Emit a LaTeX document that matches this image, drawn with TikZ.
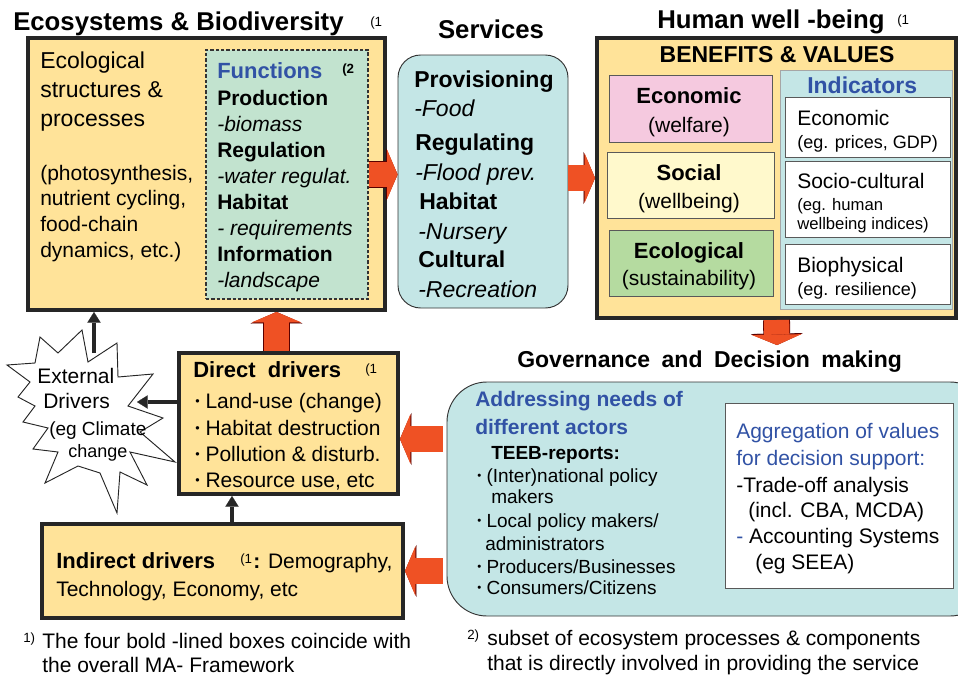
\documentclass[tikz,border=0pt]{standalone}
\usepackage{fontspec}
\setmainfont{Liberation Sans}
\usetikzlibrary{arrows.meta,calc,fit}
\definecolor{ecoyellow}{HTML}{FFE399}
\definecolor{funcgreen}{HTML}{C2E3CF}
\definecolor{servcyan}{HTML}{C4E6E6}
\definecolor{ecopink}{HTML}{F5C9DF}
\definecolor{socyellow}{HTML}{FFF9CC}
\definecolor{ecogreen}{HTML}{B5DBA0}
\definecolor{textblue}{HTML}{3152A5}
\definecolor{arrowred}{HTML}{EF5124}
\newcommand{\smallbullet}{\raisebox{0.12em}{\scalebox{0.6}{\textbullet}}}
\tikzset{
  boldbox/.style={draw=black!85, line width=3pt, fill=ecoyellow, inner sep=0pt},
  thinbox/.style={draw=black!65, line width=0.7pt, inner sep=0pt},
  txt/.style={anchor=base west, inner sep=0pt},
  ctxt/.style={anchor=base, inner sep=0pt},
  fatarrow/.style={draw=arrowred, line width=19pt, -{Triangle[length=7.8pt,width=37pt,line width=0.1pt]},
    preaction={draw=red!35!black, line width=20.2pt, -{Triangle[length=8.6pt,width=39pt,line width=0.1pt]}}},
  thinarrow/.style={draw=black!85, line width=2.8pt, -{Triangle[length=8pt,width=10pt,line width=0.1pt]}},
  f26/.style={font=\fontsize{19.3pt}{21pt}\selectfont},
  f23/.style={font=\fontsize{17.25pt}{20pt}\selectfont},
  f22/.style={font=\fontsize{16.5pt}{19pt}\selectfont},
  f21/.style={font=\fontsize{15.75pt}{18pt}\selectfont},
  f19/.style={font=\fontsize{14.25pt}{16pt}\selectfont},
  f18/.style={font=\fontsize{13.5pt}{15pt}\selectfont},
  f16/.style={font=\fontsize{12.5pt}{14pt}\selectfont},
  f13/.style={font=\fontsize{10pt}{12pt}\selectfont},
}
\begin{document}
\begin{tikzpicture}[x=0.75pt, y=-0.75pt]
\useasboundingbox (0,0) rectangle (958,675);
\clip (0,0) rectangle (958,675);

% boxes
\node[boldbox, fit={(28,38) (385,310)}] (eco) {};
\node[draw=black!80, dash pattern=on 2.5pt off 1.5pt, line width=0.8pt, fill=funcgreen, inner sep=0pt, fit={(206,50) (368,299)}] (func) {};
\node[thinbox, draw=black!80, fill=servcyan, rounded corners=17pt, fit={(398,55) (568,308)}] (serv) {};
\node[boldbox, fit={(597,38) (956,318)}] (hwb) {};
\node[thinbox, fill=ecopink, fit={(609,75) (772,142)}] (econ) {};
\node[thinbox, fill=socyellow, fit={(607,152) (774,218)}] (soc) {};
\node[thinbox, fill=ecogreen, fit={(609,230) (773,296)}] (ecol) {};
\node[thinbox, draw=black!35, fill=servcyan, fit={(780,70) (952,309)}] (ind) {};
\node[thinbox, fill=white, fit={(785,97) (950,157)}] (ind1) {};
\node[thinbox, fill=white, fit={(785,161) (950,237)}] (ind2) {};
\node[thinbox, fill=white, fit={(785,244) (950,304)}] (ind3) {};
\node[thinbox, draw=black!80, fill=servcyan, rounded corners=30pt, fit={(447,382) (990,616)}] (gov) {};
\node[thinbox, fill=white, fit={(725,403) (953,588)}] (aggr) {};
\node[boldbox, fit={(179,353) (398,494)}] (direct) {};
\node[boldbox, fit={(42,524) (403,618)}] (indirect) {};

% external drivers star
\draw[fill=white, draw=black!85, line width=0.7pt] (7,365) -- (30,382) -- (18,397) -- (35,406)
  -- (23,422) -- (48,428) -- (33,449) -- (58,452) -- (45,483) -- (78,466) -- (100,473)
  -- (117,513) -- (120,472) -- (147,485) -- (130,452) -- (175,462) -- (140,432)
  -- (163,418) -- (128,406) -- (153,374) -- (118,377) -- (117,343) -- (88,362)
  -- (82,330) -- (58,353) -- (40,337) -- (35,363) -- cycle;

% titles
\node[txt, f26] (eco-title) at (13,30) {\bfseries Ecosystems \& Biodiversity};
\node[txt, f13] (eco-fn) at (370,26) {(1};
\node[ctxt, f26] (serv-title) at (491,38) {\bfseries Services};
\node[txt, f26] (hwb-title) at (657,28) {\bfseries Human well -being};
\node[txt, f13] (hwb-fn) at (897,24) {(1};
\node[txt, f23] (gov-title) at (517,367) {\bfseries\spaceskip=0.5em Governance and Decision making};

% ecosystems
\foreach \y/\t in {68/Ecological, 97/structures \&, 126/processes}
  \node[txt, f23] (eco-\y) at (40,\y) {\t};
\foreach \y/\t in {180/{(photosynthesis,}, 205/{nutrient cycling,}, 231/food-chain, 257/{dynamics, etc.)}}
  \node[txt, f21] (proc-\y) at (40,\y) {\t};
\node[txt, f22, text=textblue] (func-title) at (217,78) {\bfseries Functions};
\node[txt, f13] (func-fn) at (342,73) {\bfseries (2};
\foreach \y/\t in {105/\bfseries Production, 131/\itshape -biomass, 157/\bfseries Regulation,
    183/\itshape -water regulat., 209/\bfseries Habitat, 235/\itshape - requirements,
    261/\bfseries Information, 287/\itshape -landscape}
  \node[txt, f21] (func-\y) at (217,\y) {\t};

% services
\foreach \x/\y/\t in {414/87/\bfseries Provisioning, 414/116/\itshape -Food, 415/150/\bfseries Regulating,
    415/180/\itshape -Flood prev., 419/209/\bfseries Habitat, 418/239/\itshape -Nursery,
    418/267/\bfseries Cultural, 418/297/\itshape -Recreation}
  \node[txt, f23] (serv-\y) at (\x,\y) {\t};

% human well-being
\node[ctxt, f23] (hwb-head) at (777,62) {\bfseries BENEFITS \& VALUES};
\node[ctxt, f22] (econ-a) at (689,103) {\bfseries Economic};
\node[ctxt, f21] (econ-b) at (689,132) {(welfare)};
\node[ctxt, f22] (soc-a) at (689,180) {\bfseries Social};
\node[ctxt, f21] (soc-b) at (689,208) {(wellbeing)};
\node[ctxt, f22] (ecol-a) at (689,258) {\bfseries Ecological};
\node[ctxt, f21] (ecol-b) at (689,285) {(sustainability)};
\node[txt, f23, text=textblue] (ind-title) at (807,93) {\bfseries Indicators};
\node[txt, f21] (ind1-a) at (797,125) {Economic};
\node[txt, f18] (ind1-b) at (797,148) {(eg. prices, GDP)};
\node[txt, f21] (ind2-a) at (797,188) {Socio-cultural};
\node[txt, f16] (ind2-b) at (797,210) {(eg. human};
\node[txt, f16] (ind2-c) at (797,229) {wellbeing indices)};
\node[txt, f21] (ind3-a) at (797,272) {Biophysical};
\node[txt, f18] (ind3-b) at (797,295) {(eg. resilience)};

% governance
\foreach \y/\t in {406/Addressing needs of, 434/different actors}
  \node[txt, f21, text=textblue] (gov-\y) at (475,\y) {\bfseries\t};
\node[txt, f19] (teeb) at (491,459) {\bfseries TEEB-reports:};
\foreach \y/\t in {482/{(Inter)national policy}, 527/{Local policy makers/}, 573/{Producers/Businesses}, 594/{Consumers/Citizens}}
  \node[txt, f19] (teeb-\y) at (477,\y) {\smallbullet\ \t};
\node[txt, f19] (teeb-503) at (491,503) {makers};
\node[txt, f19] (teeb-550) at (485,550) {administrators};
\foreach \x/\y/\t in {736/438/{\color{textblue}Aggregation of values}, 736/465/{\color{textblue}for decision support:},
    736/492/{-Trade-off analysis}, 748/517/{(incl. CBA, MCDA)},
    736/543/{\textcolor{textblue}{-} Accounting Systems}, 755/569/{(eg SEEA)}}
  \node[txt, f21] (aggr-\y) at (\x,\y) {\t};

% drivers
\node[txt, f22] (direct-title) at (193,377) {\bfseries Direct\ \ drivers};
\node[txt, f13] (direct-fn) at (365,373) {(1};
\foreach \y/\t in {408/{Land-use (change)}, 435/{Habitat destruction}, 461/{Pollution \& disturb.}, 487/{Resource use, etc}}
  \node[txt, f21] (direct-\y) at (195,\y) {\smallbullet\ \t};
\node[txt, f22] (indirect-title) at (56,568) {\bfseries Indirect drivers};
\node[txt, f13] (indirect-fn) at (240,563) {(1};
\node[txt, f21] (indirect-demo) at (253,568) {\textbf{:} Demography,};
\node[txt, f21] (indirect-tech) at (56,596) {Technology, Economy, etc};
\node[txt, f21] (ext-1) at (37,383) {External};
\node[txt, f21] (ext-2) at (43,408) {Drivers};
\node[txt, f19] (ext-3) at (49,435) {(eg Climate};
\node[txt, f18] (ext-4) at (68,457) {change};

% footnotes
\node[txt, f13] (fn1-mark) at (23,642) {1)};
\node[txt, f21] (fn1-a) at (42,648) {The four bold -lined boxes coincide with};
\node[txt, f21] (fn1-b) at (42,672) {the overall MA- Framework};
\node[txt, f13] (fn2-mark) at (467,639) {2)};
\node[txt, f21] (fn2-a) at (487,645) {subset of ecosystem processes \& components};
\node[txt, f21] (fn2-b) at (487,670) {that is directly involved in providing the service};

% arrows
\coordinate (govtop) at (777,345);
\coordinate (dirup) at ($(direct.north)+(-12,0)$);
\coordinate (govdir) at ($(direct.east)+(0,15.5)$);
\coordinate (indup) at ($(indirect.north)+(9.5,0)$);
\coordinate (extR) at (137,402);
\coordinate (extT) at (94,353);
\draw[fatarrow] (func.east) -- (func.east -| serv.west);
\draw[fatarrow] (serv.east |- hwb.west) -- (hwb.west);
\draw[fatarrow] (hwb.south) -- (govtop);
\draw[fatarrow] (dirup) -- (dirup |- eco.south);
\draw[fatarrow, shorten <=3pt] (govdir -| gov.west) -- (govdir);
\draw[fatarrow, shorten <=3pt] (indirect.east -| gov.west) -- (indirect.east);
\draw[thinarrow] (indup) -- (indup |- direct.south);
\draw[thinarrow] (direct.west |- extR) -- (extR);
\draw[thinarrow] (extT) -- (extT |- eco.south);
\end{tikzpicture}
\end{document}
